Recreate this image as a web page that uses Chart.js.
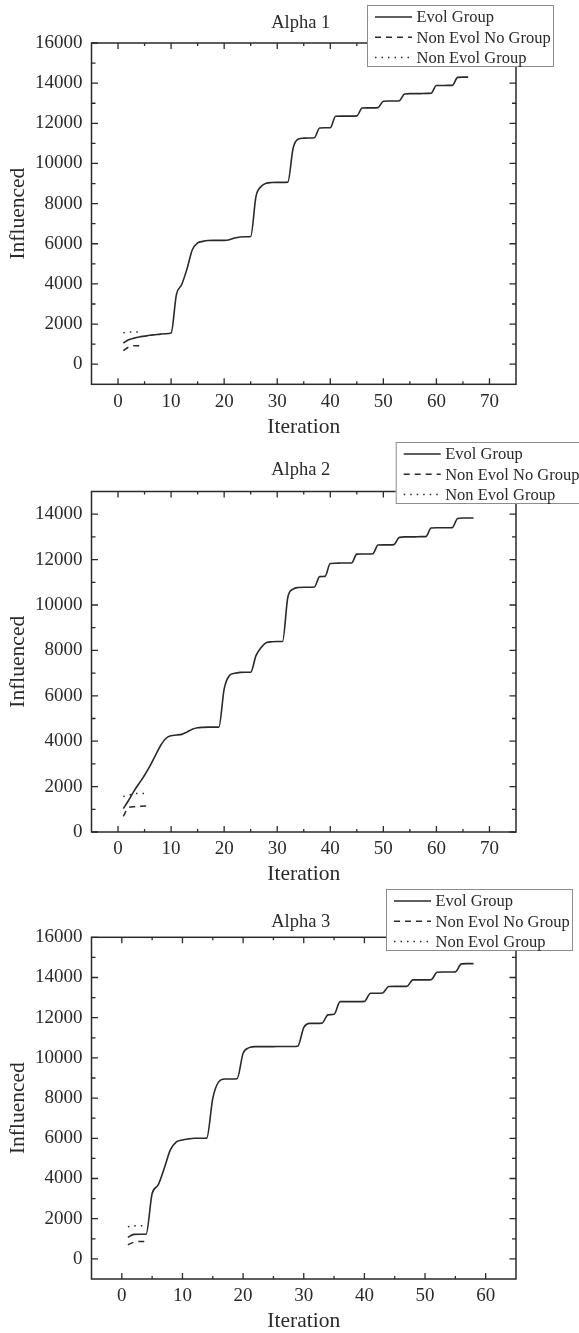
<!DOCTYPE html>
<html>
<head>
<meta charset="utf-8">
<script src="https://cdn.jsdelivr.net/npm/chart.js@4.4.1/dist/chart.umd.min.js"></script>
<style>
  html, body { margin: 0; padding: 0; background: #fff; }
  body { width: 579px; height: 1333px; position: relative; overflow: hidden; }
  canvas { position: absolute; left: 0; }
</style>
</head>
<body>
<canvas id="alpha1" width="579" height="440" style="top:0px"></canvas>
<canvas id="alpha2" width="579" height="448" style="top:440px"></canvas>
<canvas id="alpha3" width="579" height="450" style="top:885px"></canvas>
<script>
// --- data, x = iteration 1..n ---
const seriesNames = ['Evol Group', 'Non Evol No Group', 'Non Evol Group'];

const alpha1Evol = [
  1050, 1220, 1300, 1360, 1400, 1440, 1470, 1500, 1520, 1550,
  3470, 3970, 4750, 5700, 6040, 6120, 6160, 6170, 6170, 6170,
  6200, 6290, 6340, 6350, 6360, 8360, 8860, 9020, 9050, 9060,
  9060, 9070, 10770, 11220, 11260, 11270, 11280, 11770, 11780, 11780,
  12350, 12360, 12360, 12360, 12370, 12760, 12770, 12770, 12780, 13100,
  13110, 13110, 13120, 13460, 13480, 13480, 13480, 13490, 13500, 13880,
  13880, 13890, 13890, 14290, 14300, 14300
];
const alpha1NonEvolNoGroup = [680, 850, 920, 920];
const alpha1NonEvolGroup = [1570, 1600, 1610, 1610];
const alpha1XTicks = [0, 10, 20, 30, 40, 50, 60, 70];
const alpha1YTicks = [0, 2000, 4000, 6000, 8000, 10000, 12000, 14000, 16000];

const alpha2Evol = [
  1030, 1400, 1800, 2150, 2500, 2900, 3350, 3800, 4120, 4240,
  4270, 4300, 4400, 4530, 4590, 4610, 4620, 4620, 4620, 6300,
  6890, 6990, 7030, 7040, 7040, 7770, 8140, 8350, 8380, 8390,
  8390, 10340, 10700, 10770, 10780, 10780, 10790, 11250, 11260, 11830,
  11840, 11850, 11850, 11850, 12240, 12250, 12250, 12260, 12640, 12650,
  12650, 12660, 12980, 13000, 13000, 13000, 13010, 13010, 13390, 13400,
  13400, 13400, 13410, 13810, 13830, 13830, 13830
];
const alpha2NonEvolNoGroup = [690, 1080, 1110, 1130, 1150, 1150];
const alpha2NonEvolGroup = [1560, 1620, 1680, 1700, 1700];
const alpha2XTicks = [0, 10, 20, 30, 40, 50, 60, 70];
const alpha2YTicks = [0, 2000, 4000, 6000, 8000, 10000, 12000, 14000];

const alpha3Evol = [
  1080, 1220, 1230, 1230, 3250, 3680, 4510, 5420, 5820, 5920,
  5970, 6000, 6000, 6010, 7990, 8820, 8950, 8950, 8960, 10230,
  10510, 10560, 10560, 10560, 10560, 10570, 10570, 10570, 10580, 11510,
  11720, 11720, 11730, 12140, 12170, 12800, 12800, 12800, 12800, 12810,
  13220, 13220, 13230, 13550, 13560, 13560, 13560, 13880, 13880, 13880,
  13890, 14260, 14270, 14270, 14280, 14680, 14690, 14690
];
const alpha3NonEvolNoGroup = [700, 830, 870, 870];
const alpha3NonEvolGroup = [1600, 1640, 1650, 1650];
const alpha3XTicks = [0, 10, 20, 30, 40, 50, 60];
const alpha3YTicks = [0, 2000, 4000, 6000, 8000, 10000, 12000, 14000, 16000];

const INK = '#2a2a2a';
const FONT = "'Liberation Serif', 'Times New Roman', serif";
const X_AXIS_H = 55.5;

function toPoints(values) {
  return values.map((v, i) => ({x: i + 1, y: v}));
}

// frame round the plot with inward major/minor ticks on all four sides
const frameTicks = {
  id: 'frameTicks',
  afterDatasetsDraw(chart, args, opts) {
    const {ctx, chartArea: a, scales: {x, y}} = chart;
    ctx.save();
    ctx.strokeStyle = INK;
    ctx.lineWidth = 1.5;
    ctx.strokeRect(a.left, a.top, a.right - a.left, a.bottom - a.top);
    ctx.lineWidth = 1.3;
    ctx.beginPath();
    const xMark = (v, len) => {
      const px = x.getPixelForValue(v);
      ctx.moveTo(px, a.bottom); ctx.lineTo(px, a.bottom - len);
      ctx.moveTo(px, a.top); ctx.lineTo(px, a.top + len);
    };
    const yMark = (v, len) => {
      const py = y.getPixelForValue(v);
      ctx.moveTo(a.left, py); ctx.lineTo(a.left + len, py);
      ctx.moveTo(a.right, py); ctx.lineTo(a.right - len, py);
    };
    opts.xTicks.forEach((v, i, arr) => {
      xMark(v, 6);
      if (i < arr.length - 1) xMark((v + arr[i + 1]) / 2, 3);
    });
    opts.yTicks.forEach((v, i, arr) => {
      yMark(v, 6.5);
      if (i < arr.length - 1) yMark((v + arr[i + 1]) / 2, 4);
    });
    ctx.stroke();
    ctx.restore();
  }
};

// title above the plot and the framed legend at top right
const titleLegend = {
  id: 'titleLegend',
  afterDraw(chart, args, opts) {
    const {ctx, chartArea: a} = chart;
    ctx.save();
    ctx.fillStyle = INK;
    ctx.font = '18.5px ' + FONT;
    ctx.textAlign = 'center';
    ctx.textBaseline = 'middle';
    ctx.fillText(opts.text, (a.left + a.right) / 2 - 3, opts.titleY);

    const b = opts.box;
    ctx.fillStyle = '#fff';
    ctx.fillRect(b.x, b.y, 186, 61);
    ctx.strokeStyle = '#8c8c8c';
    ctx.lineWidth = 1;
    ctx.strokeRect(b.x + 0.5, b.y + 0.5, 186, 61);
    chart.data.datasets.forEach((ds, i) => {
      const rowY = b.y + 12 + i * 20.3;
      ctx.strokeStyle = INK;
      ctx.lineWidth = 1.5;
      ctx.setLineDash(ds.borderDash || []);
      ctx.beginPath();
      ctx.moveTo(b.x + 8, rowY);
      ctx.lineTo(b.x + 45, rowY);
      ctx.stroke();
      ctx.setLineDash([]);
      ctx.fillStyle = INK;
      ctx.font = '16.5px ' + FONT;
      ctx.textAlign = 'left';
      ctx.fillText(ds.label, b.x + 49.5, rowY + 1);
    });
    ctx.restore();
  }
};

function drawAlpha(id, title, evol, noGroup, group, xTicks, yTicks, xMax, yMin, yMax, layout) {
  const canvas = document.getElementById(id);
  const lineStyle = {borderColor: INK, pointRadius: 0, fill: false, cubicInterpolationMode: 'monotone'};
  new Chart(canvas, {
    type: 'line',
    data: {
      datasets: [
        Object.assign({label: seriesNames[0], data: toPoints(evol), borderWidth: 1.6}, lineStyle),
        Object.assign({label: seriesNames[1], data: toPoints(noGroup), borderWidth: 1.5, borderDash: [6, 5]}, lineStyle),
        Object.assign({label: seriesNames[2], data: toPoints(group), borderWidth: 1.5, borderDash: [1.5, 5]}, lineStyle)
      ]
    },
    options: {
      responsive: false,
      animation: false,
      layout: {padding: {left: 0, right: 63, top: layout.top, bottom: canvas.height - layout.bottom - X_AXIS_H}},
      plugins: {
        legend: {display: false},
        tooltip: {enabled: false},
        frameTicks: {xTicks: xTicks, yTicks: yTicks},
        titleLegend: {text: title, titleY: layout.titleY, box: layout.box}
      },
      scales: {
        x: {
          type: 'linear', min: -5, max: xMax,
          afterBuildTicks: s => { s.ticks = xTicks.map(v => ({value: v})); },
          afterFit: s => { s.height = X_AXIS_H; },
          grid: {display: false, drawTicks: false},
          border: {display: false},
          ticks: {color: INK, font: {family: FONT, size: 19}, padding: 6, maxRotation: 0, autoSkip: false,
                  callback: v => String(v)},
          title: {display: true, text: 'Iteration', color: INK, font: {family: FONT, size: 21.5}, padding: 0}
        },
        y: {
          type: 'linear', min: yMin, max: yMax,
          afterBuildTicks: s => { s.ticks = yTicks.map(v => ({value: v})); },
          afterFit: s => { s.width = 91.5; },
          grid: {display: false, drawTicks: false},
          border: {display: false},
          ticks: {color: INK, font: {family: FONT, size: 19}, padding: 9, autoSkip: false,
                  callback: v => String(v)},
          title: {display: true, text: 'Influenced', color: INK, font: {family: FONT, size: 21.5}, padding: {top: 5, bottom: 0}}
        }
      }
    },
    plugins: [frameTicks, titleLegend]
  });
}

drawAlpha('alpha1', 'Alpha 1', alpha1Evol, alpha1NonEvolNoGroup, alpha1NonEvolGroup,
  alpha1XTicks, alpha1YTicks, 75, -1000, 16000,
  {top: 43, bottom: 384.3, titleY: 23, box: {x: 367, y: 5}});
drawAlpha('alpha2', 'Alpha 2', alpha2Evol, alpha2NonEvolNoGroup, alpha2NonEvolGroup,
  alpha2XTicks, alpha2YTicks, 75, 0, 15000,
  {top: 51.5, bottom: 392, titleY: 30, box: {x: 395.7, y: 2}});
drawAlpha('alpha3', 'Alpha 3', alpha3Evol, alpha3NonEvolNoGroup, alpha3NonEvolGroup,
  alpha3XTicks, alpha3YTicks, 65, -1000, 16000,
  {top: 52.3, bottom: 394, titleY: 36.7, box: {x: 386, y: 4}});
</script>
</body>
</html>
